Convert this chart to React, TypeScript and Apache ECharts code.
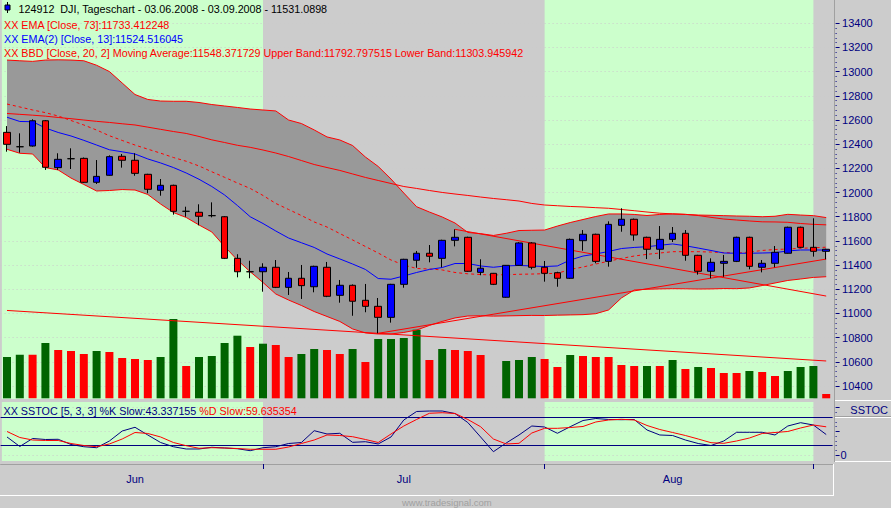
import React, { useEffect, useRef } from "react";
import * as echarts from "echarts";

// ---------- DATA ----------
const dates = [
  "03.06.2008","04.06.2008","05.06.2008","06.06.2008","09.06.2008","10.06.2008","11.06.2008","12.06.2008","13.06.2008","16.06.2008",
  "17.06.2008","18.06.2008","19.06.2008","20.06.2008","23.06.2008","24.06.2008","25.06.2008","26.06.2008","27.06.2008","30.06.2008",
  "01.07.2008","02.07.2008","03.07.2008","07.07.2008","08.07.2008","09.07.2008","10.07.2008","11.07.2008","14.07.2008","15.07.2008",
  "16.07.2008","17.07.2008","18.07.2008","21.07.2008","22.07.2008","23.07.2008","24.07.2008","25.07.2008","28.07.2008","29.07.2008",
  "30.07.2008","31.07.2008","01.08.2008","04.08.2008","05.08.2008","06.08.2008","07.08.2008","08.08.2008","11.08.2008","12.08.2008",
  "13.08.2008","14.08.2008","15.08.2008","18.08.2008","19.08.2008","20.08.2008","21.08.2008","22.08.2008","25.08.2008","26.08.2008",
  "27.08.2008","28.08.2008","29.08.2008","02.09.2008","03.09.2008",
];

const openP = [
  12498,12379,12385,12594,12206,12280,12283,12085,12143,12300,
  12267,12151,12019,12060,11845,11837,11809,11800,11456,11345,
  11345,11382,11216,11291,11221,11382,11150,11233,11109,11059,
  10968,11241,11440,11498,11456,11605,11630,11340,11332,11134,
  11398,11583,11382,11337,11291,11602,11655,11431,11729,11779,
  11630,11531,11613,11663,11481,11349,11415,11431,11630,11382,
  11415,11498,11713,11547,11514,
];
const highP = [
  12550,12490,12606,12600,12325,12366,12290,12269,12308,12319,
  12325,12155,12112,12065,11883,11903,11919,11805,11490,11436,
  11415,11442,11343,11401,11395,11426,11277,11240,11244,11128,
  11245,11452,11517,11566,11610,11696,11635,11448,11335,11400,
  11590,11590,11434,11345,11620,11690,11660,11762,11870,11785,
  11635,11723,11715,11690,11485,11456,11484,11635,11635,11442,
  11558,11718,11718,11787,11535,
];
const lowP = [
  12338,12330,12380,12187,12187,12195,12080,12071,12140,12206,
  12139,11994,11974,11817,11800,11729,11795,11450,11299,11291,
  11180,11210,11153,11120,11175,11135,11089,10981,11010,10836,
  10924,11213,11378,11423,11382,11555,11345,11316,11235,11130,
  11395,11365,11263,11221,11285,11519,11415,11387,11676,11602,
  11450,11450,11591,11436,11321,11291,11304,11425,11365,11340,
  11382,11495,11540,11470,11448,
];
const closeP = [
  12399,12379,12594,12209,12275,12280,12085,12134,12297,12267,
  12159,12027,12060,11845,11845,11804,11809,11456,11345,11345,
  11382,11216,11291,11230,11390,11142,11233,11101,11059,10968,
  11241,11448,11498,11473,11605,11630,11349,11374,11241,11398,
  11583,11382,11332,11291,11613,11655,11431,11737,11779,11649,
  11531,11613,11663,11481,11349,11423,11431,11630,11390,11415,
  11506,11713,11547,11514,11531,
];

const volume = [
  413,436,436,553,483,473,443,473,463,403,
  393,383,413,793,323,413,423,553,626,513,
  546,533,413,443,493,483,443,493,363,593,
  593,603,686,383,493,483,473,433,null,373,
  383,413,393,313,433,423,413,413,333,323,
  323,323,383,293,313,303,253,253,273,263,
  223,273,313,323,43,
];
// 1 = green bar, 0 = red bar
const volumeUp = [
  1,1,0,1,0,0,0,1,0,0,
  0,0,1,1,0,1,1,1,1,0,
  1,0,0,1,1,0,0,1,0,1,
  1,1,1,0,1,0,0,0,0,1,
  1,1,0,0,1,0,0,0,0,0,
  1,0,1,0,1,0,0,0,1,0,
  0,1,1,1,0,
];

const upperBand = [
  13096,13090,13085,13096,13098,13096,13090,13053,13001,12906,
  12811,12770,12757,12755,12755,12745,12728,12716,12704,12691,
  12683,12675,12600,12571,12518,12460,12435,12389,12294,12216,
  12112,11996,11883,11839,11798,11748,11670,11660,11645,11663,
  11686,11688,11690,11723,11752,11777,11802,11823,11823,11819,
  11810,11819,11823,11819,11814,11812,11809,11806,11804,11800,
  11804,11820,11814,11809,11793,
];
const lowerBand = [
  12358,12325,12319,12207,12187,12120,12067,12013,12017,12025,
  12021,11984,11905,11835,11794,11732,11674,11554,11442,11345,
  11256,11161,11111,11066,11016,10975,10934,10872,10839,10830,
  10830,10843,10863,10901,10934,10963,10979,10981,10978,10980,
  10982,10984,10983,10986,10988,10990,10998,11029,11128,11194,
  11200,11203,11205,11204,11202,11203,11206,11205,11211,11231,
  11252,11273,11285,11298,11304,
];
const bbAverage = [
  12732,12708,12683,12661,12633,12596,12559,12517,12470,12431,
  12393,12359,12326,12290,12259,12220,12172,12126,12079,12034,
  11976,11910,11860,11810,11757,11715,11661,11608,11554,11500,
  11442,11401,11372,11368,11360,11339,11328,11322,11318,11321,
  11324,11326,11329,11332,11364,11384,11409,11432,11455,11475,
  11489,11500,11511,11511,11511,11508,11504,11499,11508,11521,
  11529,11533,11539,11543,11548,
];
const ema13 = [
  12623,12588,12586,12534,12497,12468,12432,12393,12354,12337,
  12319,12278,12245,12207,12162,12110,12050,11980,11893,11800,
  11744,11682,11624,11585,11546,11492,11451,11409,11364,11289,
  11283,11310,11339,11364,11380,11413,11413,11393,11382,11393,
  11397,11393,11388,11393,11442,11475,11492,11513,11537,11546,
  11552,11564,11575,11560,11541,11521,11500,11498,11498,11500,
  11503,11517,11525,11525,11524.5,
];
const ema73 = [
  12654,12647,12640,12632,12621,12611,12600,12589,12580,12569,
  12559,12541,12523,12505,12489,12464,12436,12414,12391,12374,
  12352,12327,12298,12265,12232,12207,12183,12154,12125,12100,
  12075,12050,12034,12017,12001,11988,11976,11963,11951,11941,
  11930,11910,11897,11891,11885,11881,11875,11870,11860,11850,
  11839,11829,11824,11820,11810,11795,11781,11773,11765,11758,
  11757,11754,11744,11737,11733,
];

// straight trend lines: [dateIndex, price]
const trendLine1 = [[0, 11025], [64, 10607]];
const trendLine2 = [[29, 10836], [64, 11450]];
const trendLine3 = [[35, 11696], [64, 11144]];

const stochK = [
  38.1,18.0,34.9,32.8,33.2,22.2,17.5,15.4,29.6,50.7,
  58.6,42.3,26.4,17.5,12.7,12.7,16.3,14.8,13.3,9.1,
  15.4,17.5,24.3,26.4,51.4,44.4,45.9,26.8,28.1,23.3,
  38.1,74.0,92.0,93.0,93.0,87.7,68.7,38.1,7.0,25.4,
  42.3,61.3,59.2,45.9,59.8,72.9,77.2,75.1,74.6,75.1,
  52.9,42.3,41.2,31.7,24.3,20.1,29.6,48.0,48.0,48.0,
  42.3,61.3,68.3,63.4,43.3,
];
const stochD = [
  49.7,37.0,31.7,30.7,30.7,24.3,20.1,17.5,23.3,33.8,
  47.6,45.5,38.1,26.4,19.7,14.2,15.4,14.8,13.7,12.1,
  12.1,12.1,16.9,24.3,31.7,42.3,41.2,38.7,32.8,26.4,
  44.4,61.3,75.1,88.2,89.4,87.7,75.1,59.8,33.8,23.3,
  24.7,46.5,56.4,56.4,58.1,60.3,69.8,74.0,75.5,74.0,
  62.4,53.9,47.6,41.2,33.8,26.0,24.7,29.6,35.9,45.5,
  47.6,49.7,57.1,63.4,59.6,
];
const stochLevels = [80, 20];

const priceTicks = { min: 10400, max: 13400, step: 200 };
const monthNames: Record<string, string> = { "06": "Jun", "07": "Jul", "08": "Aug", "09": "Sep" };

const titleText = "124912  DJI, Tageschart - 03.06.2008 - 03.09.2008 - 11531.0898";
const legendEma73 = "XX EMA [Close, 73]:11733.412248";
const legendEma13 = "XX EMA(2) [Close, 13]:11524.516045";
const legendBbd = "XX BBD [Close, 20, 2] Moving Average:11548.371729 Upper Band:11792.797515 Lower Band:11303.945942";
const legendStochK = "XX SSTOC [5, 3, 3] %K Slow:43.337155 ";
const legendStochD = "%D Slow:59.635354";

// ---------- STYLE ----------
const FONT = '"Liberation Sans", Arial, sans-serif';
const LEGEND_SIZE = 10.75;
const NAVY = "#000080";
const RED = "#FF0000";
const BLUE = "#0000FF";
const VGREEN = "#006400";
const SHADE = "#CCFFCC";
const BG = "#CCCCCC";
const GL = 0.6;
const GW = 832;

export default function App() {
  const ref = useRef<HTMLDivElement>(null);

  useEffect(() => {
    if (!ref.current) return;
    const chart = echarts.init(ref.current, null, { renderer: "svg" });

    const monthOf = (d: string) => d.slice(3, 5);
    const monthStarts: number[] = [];
    dates.forEach((d, i) => {
      if (i > 0 && monthOf(d) !== monthOf(dates[i - 1])) monthStarts.push(i);
    });
    const bounds = [0, ...monthStarts, dates.length];
    const labelIdx: number[] = [];
    for (let k = 0; k < bounds.length - 1; k++) {
      if (bounds[k + 1] - bounds[k] >= 10) labelIdx.push(Math.floor((bounds[k] + bounds[k + 1]) / 2));
    }
    // shaded months: June and August
    const shadeSpans = [
      [-0.4, dates.indexOf("01.07.2008")],
      [dates.indexOf("01.08.2008"), dates.indexOf("02.09.2008")],
    ];

    const candleData = dates.map((_, i) => [openP[i], closeP[i], lowP[i], highP[i]]);
    const bbFill = upperBand.map((u, i) => u - lowerBand[i]);

    const shadeRender = (params: any, api: any) => {
      const a = api.coord([api.value(0), 0]);
      const b = api.coord([api.value(1), 1]);
      return {
        type: "rect",
        shape: { x: a[0], y: b[1], width: b[0] - a[0], height: a[1] - b[1] },
        style: { fill: SHADE },
      };
    };

    const lineS = (data: any, color: string, extra: any = {}) => ({
      type: "line",
      xAxisIndex: 0,
      yAxisIndex: 0,
      data,
      symbol: "none",
      silent: true,
      z: 5,
      lineStyle: { color, width: 1, ...(extra.lineStyle || {}) },
    });

    const txt = (x: number, y: number, text: string, fill: string, extra: any = {}) => ({
      type: "text",
      x,
      y,
      z: 100,
      silent: true,
      style: {
        text,
        fill,
        font: `${LEGEND_SIZE}px ${FONT}`,
        textVerticalAlign: "middle",
        verticalAlign: "middle",
        ...extra,
      },
    });

    const hline = (x1: number, x2: number, y: number, stroke: string) => ({
      type: "line",
      z: 100,
      silent: true,
      shape: { x1, y1: y, x2, y2: y },
      style: { stroke, lineWidth: 1 },
    });
    const vline = (x: number, y1: number, y2: number, stroke: string) => ({
      type: "line",
      z: 100,
      silent: true,
      shape: { x1: x, y1, x2: x, y2 },
      style: { stroke, lineWidth: 1 },
    });

    const option: any = {
      animation: false,
      backgroundColor: BG,
      grid: [
        { left: GL, width: GW, top: 23.3, height: 362.7 }, // 0 price
        { left: GL, width: GW, top: 298.3, height: 100 }, // 1 volume
        { left: GL, width: GW, top: 407.7, height: 47.3 }, // 2 stoch
        { left: GL, width: GW, top: 462, height: 2 }, // 3 time axis
        { left: GL, width: GW, top: 0, height: 399 }, // 4 bg main
        { left: GL, width: GW, top: 402, height: 59 }, // 5 bg stoch
      ],
      xAxis: [
        { type: "category", gridIndex: 0, data: dates, show: false },
        { type: "category", gridIndex: 1, data: dates, show: false },
        { type: "category", gridIndex: 2, data: dates, show: false },
        {
          type: "category",
          gridIndex: 3,
          data: dates,
          axisLine: { show: true, lineStyle: { color: "#A0A0A0", width: 1 } },
          axisTick: {
            show: true,
            alignWithLabel: true,
            length: 5,
            interval: (i: number) => monthStarts.includes(i),
            lineStyle: { color: NAVY },
          },
          axisLabel: {
            show: true,
            interval: (i: number) => labelIdx.includes(i),
            formatter: (v: string) => monthNames[monthOf(v)] || "",
            color: NAVY,
            fontSize: 11,
            fontFamily: FONT,
            margin: 9,
          },
          splitLine: { show: false },
        },
        { type: "value", gridIndex: 4, min: -0.5, max: 64.5, show: false },
        { type: "value", gridIndex: 5, min: -0.5, max: 64.5, show: false },
      ],
      yAxis: [
        {
          type: "value",
          gridIndex: 0,
          position: "right",
          min: priceTicks.min,
          max: priceTicks.max,
          interval: priceTicks.step,
          offset: 3,
          z: 2,
          axisLine: { show: false },
          axisTick: { show: true, length: 4, lineStyle: { color: NAVY } },
          minorTick: { show: true, splitNumber: 5, length: 1, lineStyle: { color: NAVY } },
          axisLabel: {
            color: NAVY,
            fontSize: 11,
            fontFamily: FONT,
            margin: 6.5,
            formatter: (v: number) => String(v),
          },
          splitLine: { show: true, lineStyle: { color: BG, type: [1, 3], width: 1 } },
        },
        { type: "value", gridIndex: 1, min: 0, max: 1000, show: false },
        {
          type: "value",
          gridIndex: 2,
          position: "right",
          min: 0,
          max: 100,
          interval: 50,
          offset: 3,
          z: 2,
          axisLine: { show: false },
          axisTick: { show: true, length: 4, lineStyle: { color: NAVY } },
          minorTick: { show: true, splitNumber: 5, length: 1, lineStyle: { color: NAVY } },
          axisLabel: {
            color: NAVY,
            fontSize: 11,
            fontFamily: FONT,
            margin: 5,
            formatter: (v: number) => (v === 0 ? "0" : ""),
          },
          splitLine: { show: true, lineStyle: { color: BG, type: [1, 3], width: 1 } },
        },
        { type: "value", gridIndex: 3, show: false },
        { type: "value", gridIndex: 4, min: 0, max: 1, show: false },
        { type: "value", gridIndex: 5, min: 0, max: 1, show: false },
      ],
      series: [
        {
          type: "custom",
          xAxisIndex: 4,
          yAxisIndex: 4,
          z: 1,
          silent: true,
          data: shadeSpans,
          renderItem: shadeRender,
        },
        {
          type: "custom",
          xAxisIndex: 5,
          yAxisIndex: 5,
          z: 1,
          silent: true,
          data: shadeSpans,
          renderItem: shadeRender,
        },
        // Bollinger fill
        {
          type: "line",
          xAxisIndex: 0,
          yAxisIndex: 0,
          data: lowerBand,
          stack: "bb",
          symbol: "none",
          silent: true,
          z: 3,
          lineStyle: { opacity: 0 },
        },
        {
          type: "line",
          xAxisIndex: 0,
          yAxisIndex: 0,
          data: bbFill,
          stack: "bb",
          symbol: "none",
          silent: true,
          z: 3,
          lineStyle: { opacity: 0 },
          areaStyle: { color: "#999999", opacity: 1 },
        },
        // volume
        {
          type: "bar",
          xAxisIndex: 1,
          yAxisIndex: 1,
          barWidth: 8,
          z: 4,
          silent: true,
          data: volume.map((v, i) => ({ value: v, itemStyle: { color: volumeUp[i] ? VGREEN : RED } })),
        },
        lineS(upperBand, RED),
        lineS(lowerBand, RED),
        lineS(bbAverage, RED, { lineStyle: { type: [3, 3] } }),
        lineS(ema73, RED),
        lineS(ema13, BLUE),
        lineS(trendLine1, RED),
        lineS(trendLine2, RED),
        lineS(trendLine3, RED),
        {
          type: "candlestick",
          xAxisIndex: 0,
          yAxisIndex: 0,
          data: candleData,
          barWidth: 7,
          z: 6,
          silent: true,
          itemStyle: {
            color: BLUE,
            color0: RED,
            borderColor: "#000000",
            borderColor0: "#000000",
            borderWidth: 1,
          },
        },
        // stochastic
        {
          type: "line",
          xAxisIndex: 2,
          yAxisIndex: 2,
          data: stochK,
          symbol: "none",
          silent: true,
          z: 5,
          lineStyle: { color: NAVY, width: 1 },
          markLine: {
            silent: true,
            symbol: "none",
            label: { show: false },
            lineStyle: { color: NAVY, type: "solid", width: 1 },
            data: stochLevels.map((v) => ({ yAxis: v })),
          },
        },
        {
          type: "line",
          xAxisIndex: 2,
          yAxisIndex: 2,
          data: stochD,
          symbol: "none",
          silent: true,
          z: 6,
          lineStyle: { color: RED, width: 1 },
        },
      ],
      graphic: [
        // panel borders
        vline(834.5, 0, 462, "#A0A0A0"),
        hline(835, 891, 400.5, "#FFFFFF"),
        hline(835, 891, 416.5, "#A0A0A0"),
        hline(835, 891, 417.5, "#FFFFFF"),
        hline(835, 891, 461.5, "#FFFFFF"),
        hline(0, 833.5, 495.5, "#FFFFFF"),
        vline(833.5, 464, 496, "#FFFFFF"),
        // title icon (small candle)
        vline(7.5, 2, 13, "#000000"),
        {
          type: "rect",
          z: 101,
          silent: true,
          shape: { x: 5, y: 5, width: 5, height: 5 },
          style: { fill: BLUE, stroke: "#000000", lineWidth: 1 },
        },
        txt(18.5, 8.5, titleText, "#000000"),
        txt(4, 24.5, legendEma73, RED),
        txt(4, 38.8, legendEma13, BLUE),
        txt(4, 53, legendBbd, RED),
        {
          type: "text",
          x: 3.5,
          y: 410.5,
          z: 100,
          silent: true,
          style: {
            text: `{k|${legendStochK}}{d|${legendStochD}}`,
            font: `${LEGEND_SIZE}px ${FONT}`,
            textVerticalAlign: "middle",
            verticalAlign: "middle",
            rich: {
              k: { fill: NAVY, color: NAVY, fontSize: LEGEND_SIZE, fontFamily: FONT },
              d: { fill: RED, color: RED, fontSize: LEGEND_SIZE, fontFamily: FONT },
            },
          },
        },
        txt(888, 409.5, "SSTOC", NAVY, { textAlign: "right", align: "right", font: `11px ${FONT}` }),
        txt(402, 502, "www.tradesignal.com", "#A0A0A0", { font: `9.5px ${FONT}` }),
      ],
    };

    chart.setOption(option);
    return () => chart.dispose();
  }, []);

  return (
    <div
      ref={ref}
      style={{ position: "fixed", left: 0, top: 0, width: 891, height: 508, background: BG }}
    />
  );
}
